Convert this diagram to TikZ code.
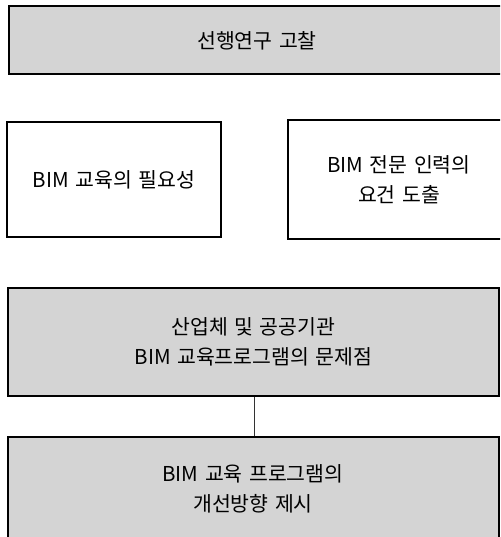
\documentclass[tikz,border=0pt]{standalone}
\usepackage{fontspec}
\setmainfont{Noto Sans CJK KR}[WordSpace=1.4]
\begin{document}
\begin{tikzpicture}[x=1pt,y=-1pt,
  txt/.style={align=center,inner sep=0pt,font=\fontsize{20.5}{30}\selectfont},
  gbox/.style={draw=black,line width=2pt,fill=boxgray,inner sep=0pt,txt},
  wbox/.style={draw=black,line width=2pt,fill=white,inner sep=0pt,txt}]
\definecolor{boxgray}{HTML}{D4D4D4}
\useasboundingbox (0,0) rectangle (500,537);
\clip (0,0) rectangle (500,537);
\node[gbox,minimum width=501pt,minimum height=68pt] (top) at (259.5,40) {};
\node[txt] (toptxt) at (257,41) {선행연구 고찰};
\node[wbox,minimum width=214pt,minimum height=115pt] (need) at (114,179.5) {BIM 교육의 필요성};
\node[wbox,minimum width=222pt,minimum height=119pt] (req) at (399,179.5) {BIM 전문 인력의\\요건 도출};
\node[gbox,minimum width=491pt,minimum height=108pt] (prob) at (253.5,342) {산업체 및 공공기관\\BIM 교육프로그램의 문제점};
\node[gbox,minimum width=491pt,minimum height=114pt] (impr) at (253.5,494) {};
\node[txt] (imprtxt) at (253,488.5) {BIM 교육 프로그램의\\개선방향 제시};
\draw[line width=0.8pt,draw=black!80] (prob.south -| 254,0) -- (impr.north -| 254,0);
\end{tikzpicture}
\end{document}
